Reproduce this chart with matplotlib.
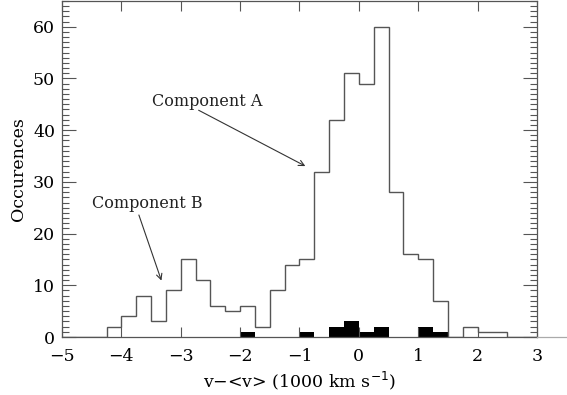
import numpy as np
import matplotlib
matplotlib.use('Agg')
import matplotlib.pyplot as plt
from matplotlib.lines import Line2D
from matplotlib.ticker import MultipleLocator

# bin edges (1000 km/s), 0.25 wide from -5 to 3
bin_start = -5.0
bin_width = 0.25
all_counts = [0, 0, 0, 2, 4, 8, 3, 9, 15, 11, 6, 5, 6, 2, 9, 14,
              15, 32, 42, 51, 49, 60, 28, 16, 15, 7, 0, 2, 1, 1, 0, 0]
filled_counts = [0, 0, 0, 0, 0, 0, 0, 0, 0, 0, 0, 0, 1, 0, 0, 0,
                 1, 0, 2, 3, 1, 2, 0, 0, 2, 1, 0, 0, 0, 0, 0, 0]

labels = ['Component A', 'Component B']
label_xy = [(-3.49, 45.6), (-4.5, 25.8)]
arrow_start = [(-2.74, 44.1), (-3.72, 24.1)]
arrow_tip = [(-0.86, 32.8), (-3.31, 10.4)]

plt.rcParams['font.family'] = ['DejaVu Serif']

fig = plt.figure(figsize=(5.67, 3.95), dpi=100)
ax = fig.add_axes([0.1093, 0.1468, 0.8378, 0.851])

edges = bin_start + bin_width * np.arange(len(all_counts) + 1)
ax.stairs(filled_counts, edges, fill=True, color='black')
ax.stairs(all_counts, edges, color='#555555', lw=1.0)

for lab, xy, s, t in zip(labels, label_xy, arrow_start, arrow_tip):
    ax.text(xy[0], xy[1], lab, fontsize=11.5, color='#222222', va='center', ha='left')
    ax.annotate('', xy=t, xytext=s,
                arrowprops=dict(arrowstyle='->', color='#333333', lw=0.8,
                                mutation_scale=10))

ax.set_xlim(-5, 3)
ax.set_ylim(0, 65)
ax.xaxis.set_major_locator(MultipleLocator(1))
ax.yaxis.set_major_locator(MultipleLocator(10))
ax.yaxis.set_minor_locator(MultipleLocator(1))
ax.tick_params(axis='both', which='both', direction='in', top=True, right=True,
               color='#555555', width=0.8, labelsize=12.5)
ax.tick_params(axis='x', which='major', length=7, pad=8)
ax.tick_params(axis='y', which='major', length=10, pad=5)
ax.tick_params(axis='y', which='minor', length=5)
ax.set_xticks(np.arange(-5, 4, 1))
ax.set_xticklabels(['\u22125', '\u22124', '\u22123', '\u22122', '\u22121', '0', '1', '2', '3'])
for sp in ax.spines.values():
    sp.set_color('#555555')
    sp.set_linewidth(0.9)

ax.set_xlabel('v\u2212<v> (1000 km s$^{-1}$)', fontsize=12.5, labelpad=3)
ax.set_ylabel('Occurences', fontsize=12.5, labelpad=4)

# bottom line runs on past the right edge in the original
fig.add_artist(Line2D([0.947, 1.0], [0.1468, 0.1468], color='#aaaaaa', lw=0.9,
                      transform=fig.transFigure))

fig.savefig('out.png', dpi=100)
